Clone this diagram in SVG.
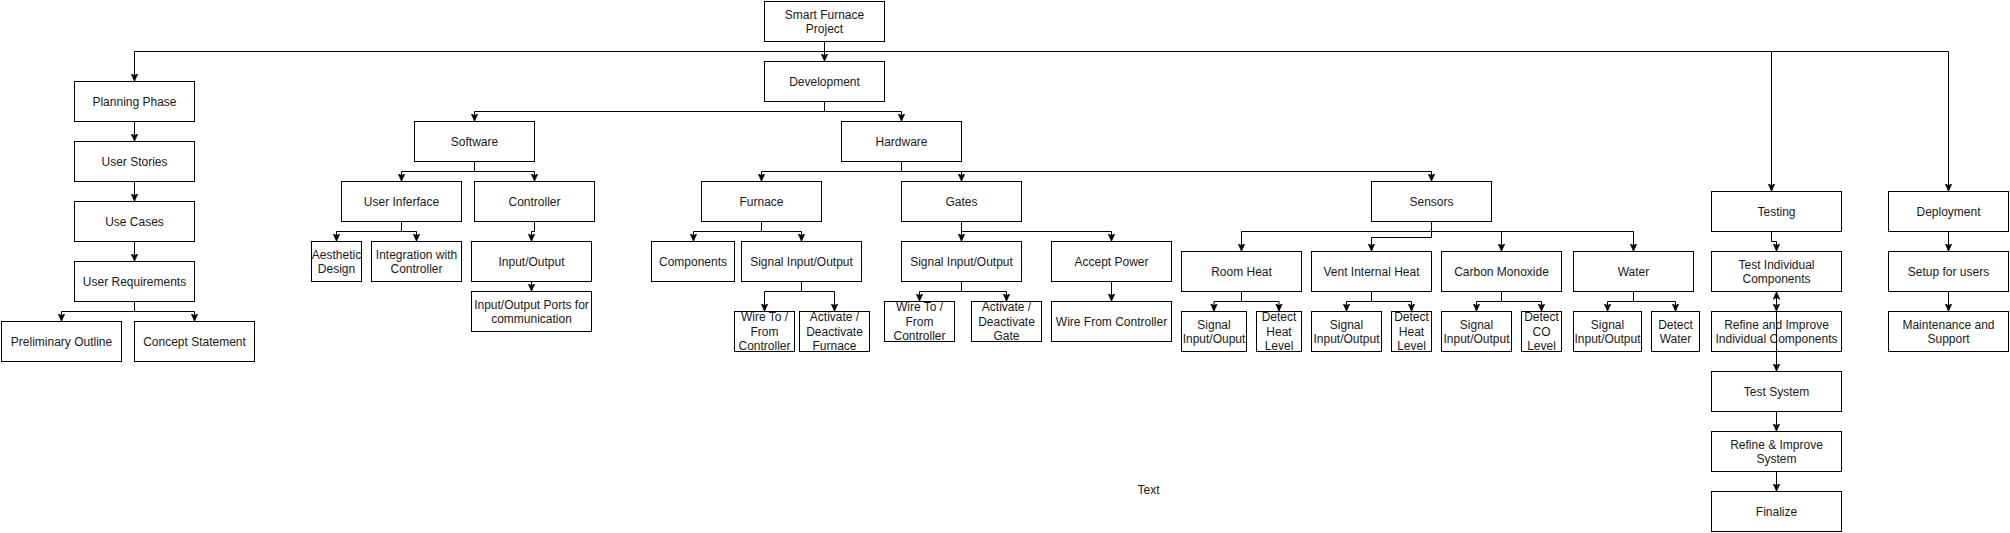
<svg xmlns="http://www.w3.org/2000/svg" width="2010" height="533" viewBox="0 0 2010 533">
<style>
.n rect{fill:#fff;stroke:#000;stroke-width:1}
.n rect.see{fill:none}
.n text,.lbl{font-family:"Liberation Sans",Arial,sans-serif;font-size:12px;fill:#1a1a1a;text-anchor:middle}
.e path{fill:none;stroke:#000;stroke-width:1;marker-end:url(#arr)}
</style>
<defs>
<marker id="arr" viewBox="0 0 8 8" refX="8" refY="4" markerWidth="8" markerHeight="8" markerUnits="userSpaceOnUse" orient="auto">
<path d="M0,0.5 L8,4 L0,7.5 L2,4 Z" fill="#000" stroke="#000" stroke-width="0.5"/>
</marker>
</defs>
<rect width="2010" height="533" fill="#fff"/>
<g id="connectors" class="e">
<path d="M824.5,41.5 V61.5"/>
<path d="M824.5,41.5 V51.5 H134.5 V81.5"/>
<path d="M824.5,41.5 V51.5 H1771.5 V191.5"/>
<path d="M824.5,41.5 V51.5 H1948.5 V191.5"/>
<path d="M134.5,121.5 V141.5"/>
<path d="M134.5,181.5 V201.5"/>
<path d="M134.5,241.5 V261.5"/>
<path d="M134.5,301.5 V311.5 H61.5 V321.5"/>
<path d="M134.5,301.5 V311.5 H194.5 V321.5"/>
<path d="M824.5,101.5 V111.5 H474.5 V121.5"/>
<path d="M824.5,101.5 V111.5 H901.5 V121.5"/>
<path d="M474.5,161.5 V171.5 H401.5 V181.5"/>
<path d="M474.5,161.5 V171.5 H534.5 V181.5"/>
<path d="M401.5,221.5 V231.5 H336.5 V241.5"/>
<path d="M401.5,221.5 V231.5 H416.5 V241.5"/>
<path d="M534.5,221.5 V231.5 H531.5 V241.5"/>
<path d="M531.5,281.5 V291.5"/>
<path d="M901.5,161.5 V171.5 H761.5 V181.5"/>
<path d="M901.5,161.5 V171.5 H961.5 V181.5"/>
<path d="M901.5,161.5 V171.5 H1431.5 V181.5"/>
<path d="M761.5,221.5 V231.5 H693.5 V241.5"/>
<path d="M761.5,221.5 V231.5 H801.5 V241.5"/>
<path d="M801.5,281.5 V291.5 H764.5 V311.5"/>
<path d="M801.5,281.5 V291.5 H834.5 V311.5"/>
<path d="M961.5,221.5 V241.5"/>
<path d="M961.5,221.5 V231.5 H1111.5 V241.5"/>
<path d="M961.5,281.5 V291.5 H919.5 V301.5"/>
<path d="M961.5,281.5 V291.5 H1006.5 V301.5"/>
<path d="M1111.5,281.5 V301.5"/>
<path d="M1431.5,221.5 V231.5 H1241.5 V251.5"/>
<path d="M1431.5,221.5 V237.5 H1371.5 V251.5"/>
<path d="M1431.5,221.5 V231.5 H1501.5 V251.5"/>
<path d="M1431.5,221.5 V231.5 H1633.5 V251.5"/>
<path d="M1241.5,291.5 V301.5 H1214 V311.5"/>
<path d="M1241.5,291.5 V301.5 H1279 V311.5"/>
<path d="M1371.5,291.5 V301.5 H1346.5 V311.5"/>
<path d="M1371.5,291.5 V301.5 H1411.5 V311.5"/>
<path d="M1501.5,291.5 V301.5 H1476.5 V311.5"/>
<path d="M1501.5,291.5 V301.5 H1541.5 V311.5"/>
<path d="M1633.5,291.5 V301.5 H1607.5 V311.5"/>
<path d="M1633.5,291.5 V301.5 H1675.5 V311.5"/>
<path d="M1771.5,231.5 V241.5 H1776.5 V251.5"/>
<path d="M1776.5,291.5 V311.5"/>
<path d="M1776.5,311.5 V291.5"/>
<path d="M1776.5,291.5 V371.5"/>
<path d="M1776.5,411.5 V431.5"/>
<path d="M1776.5,471.5 V491.5"/>
<path d="M1948.5,231.5 V251.5"/>
<path d="M1948.5,291.5 V311.5"/>
</g>
<g id="smart" class="n"><rect x="764.5" y="1.5" width="120" height="40"/><text x="824.5" y="18.5">Smart Furnace</text><text x="824.5" y="32.5">Project</text></g>
<g id="development" class="n"><rect x="764.5" y="61.5" width="120" height="40"/><text x="824.5" y="85.5">Development</text></g>
<g id="planning" class="n"><rect x="74.5" y="81.5" width="120" height="40"/><text x="134.5" y="105.5">Planning Phase</text></g>
<g id="stories" class="n"><rect x="74.5" y="141.5" width="120" height="40"/><text x="134.5" y="165.5">User Stories</text></g>
<g id="usecases" class="n"><rect x="74.5" y="201.5" width="120" height="40"/><text x="134.5" y="225.5">Use Cases</text></g>
<g id="userreq" class="n"><rect x="74.5" y="261.5" width="120" height="40"/><text x="134.5" y="285.5">User Requirements</text></g>
<g id="prelim" class="n"><rect x="1.5" y="321.5" width="120" height="40"/><text x="61.5" y="345.5">Preliminary Outline</text></g>
<g id="concept" class="n"><rect x="134.5" y="321.5" width="120" height="40"/><text x="194.5" y="345.5">Concept Statement</text></g>
<g id="software" class="n"><rect x="414.5" y="121.5" width="120" height="40"/><text x="474.5" y="145.5">Software</text></g>
<g id="hardware" class="n"><rect x="841.5" y="121.5" width="120" height="40"/><text x="901.5" y="145.5">Hardware</text></g>
<g id="ui" class="n"><rect x="341.5" y="181.5" width="120" height="40"/><text x="401.5" y="205.5">User Inferface</text></g>
<g id="controller" class="n"><rect x="474.5" y="181.5" width="120" height="40"/><text x="534.5" y="205.5">Controller</text></g>
<g id="aesthetic" class="n"><rect x="311.5" y="241.5" width="50" height="40"/><text x="336.5" y="258.5">Aesthetic</text><text x="336.5" y="272.5">Design</text></g>
<g id="integration" class="n"><rect x="371.5" y="241.5" width="90" height="40"/><text x="416.5" y="258.5">Integration with</text><text x="416.5" y="272.5">Controller</text></g>
<g id="io" class="n"><rect x="471.5" y="241.5" width="120" height="40"/><text x="531.5" y="265.5">Input/Output</text></g>
<g id="ioports" class="n"><rect x="471.5" y="291.5" width="120" height="40"/><text x="531.5" y="308.5">Input/Output Ports for</text><text x="531.5" y="322.5">communication</text></g>
<g id="furnace" class="n"><rect x="701.5" y="181.5" width="120" height="40"/><text x="761.5" y="205.5">Furnace</text></g>
<g id="components" class="n"><rect x="651.5" y="241.5" width="83" height="40"/><text x="693" y="265.5">Components</text></g>
<g id="furnacesig" class="n"><rect x="741.5" y="241.5" width="120" height="40"/><text x="801.5" y="265.5">Signal Input/Output</text></g>
<g id="furnacewire" class="n"><rect x="734.5" y="311.5" width="60" height="40"/><text x="764.5" y="321.1">Wire To /</text><text x="764.5" y="335.5">From</text><text x="764.5" y="349.9">Controller</text></g>
<g id="furnaceact" class="n"><rect x="799.5" y="311.5" width="70" height="40"/><text x="834.5" y="321.1">Activate /</text><text x="834.5" y="335.5">Deactivate</text><text x="834.5" y="349.9">Furnace</text></g>
<g id="gates" class="n"><rect x="901.5" y="181.5" width="120" height="40"/><text x="961.5" y="205.5">Gates</text></g>
<g id="gatesig" class="n"><rect x="901.5" y="241.5" width="120" height="40"/><text x="961.5" y="265.5">Signal Input/Output</text></g>
<g id="power" class="n"><rect x="1051.5" y="241.5" width="120" height="40"/><text x="1111.5" y="265.5">Accept Power</text></g>
<g id="gatewire" class="n"><rect x="884.5" y="301.5" width="70" height="40"/><text x="919.5" y="311.1">Wire To /</text><text x="919.5" y="325.5">From</text><text x="919.5" y="339.9">Controller</text></g>
<g id="gateact" class="n"><rect x="971.5" y="301.5" width="70" height="40"/><text x="1006.5" y="311.1">Activate /</text><text x="1006.5" y="325.5">Deactivate</text><text x="1006.5" y="339.9">Gate</text></g>
<g id="powerwire" class="n"><rect x="1051.5" y="301.5" width="120" height="40"/><text x="1111.5" y="325.5">Wire From Controller</text></g>
<g id="sensors" class="n"><rect x="1371.5" y="181.5" width="120" height="40"/><text x="1431.5" y="205.5">Sensors</text></g>
<g id="roomheat" class="n"><rect x="1181.5" y="251.5" width="120" height="40"/><text x="1241.5" y="275.5">Room Heat</text></g>
<g id="vent" class="n"><rect x="1311.5" y="251.5" width="120" height="40"/><text x="1371.5" y="275.5">Vent Internal Heat</text></g>
<g id="co" class="n"><rect x="1441.5" y="251.5" width="120" height="40"/><text x="1501.5" y="275.5">Carbon Monoxide</text></g>
<g id="water" class="n"><rect x="1573.5" y="251.5" width="120" height="40"/><text x="1633.5" y="275.5">Water</text></g>
<g id="roomsig" class="n"><rect x="1181.5" y="311.5" width="65" height="40"/><text x="1214" y="328.5">Signal</text><text x="1214" y="342.5">Input/Ouput</text></g>
<g id="roomdet" class="n"><rect x="1256.5" y="311.5" width="45" height="40"/><text x="1279" y="321.1">Detect</text><text x="1279" y="335.5">Heat</text><text x="1279" y="349.9">Level</text></g>
<g id="ventsig" class="n"><rect x="1311.5" y="311.5" width="70" height="40"/><text x="1346.5" y="328.5">Signal</text><text x="1346.5" y="342.5">Input/Output</text></g>
<g id="ventdet" class="n"><rect x="1391.5" y="311.5" width="40" height="40"/><text x="1411.5" y="321.1">Detect</text><text x="1411.5" y="335.5">Heat</text><text x="1411.5" y="349.9">Level</text></g>
<g id="cosig" class="n"><rect x="1441.5" y="311.5" width="70" height="40"/><text x="1476.5" y="328.5">Signal</text><text x="1476.5" y="342.5">Input/Output</text></g>
<g id="codet" class="n"><rect x="1521.5" y="311.5" width="40" height="40"/><text x="1541.5" y="321.1">Detect</text><text x="1541.5" y="335.5">CO</text><text x="1541.5" y="349.9">Level</text></g>
<g id="watersig" class="n"><rect x="1573.5" y="311.5" width="68" height="40"/><text x="1607.5" y="328.5">Signal</text><text x="1607.5" y="342.5">Input/Output</text></g>
<g id="waterdet" class="n"><rect x="1651.5" y="311.5" width="48" height="40"/><text x="1675.5" y="328.5">Detect</text><text x="1675.5" y="342.5">Water</text></g>
<g id="testing" class="n"><rect x="1711.5" y="191.5" width="130" height="40"/><text x="1776.5" y="215.5">Testing</text></g>
<g id="testind" class="n"><rect x="1711.5" y="251.5" width="130" height="40"/><text x="1776.5" y="268.5">Test Individual</text><text x="1776.5" y="282.5">Components</text></g>
<g id="refineind" class="n"><rect class="see" x="1711.5" y="311.5" width="130" height="40"/><text x="1776.5" y="328.5">Refine and Improve</text><text x="1776.5" y="342.5">Individual Components</text></g>
<g id="testsys" class="n"><rect x="1711.5" y="371.5" width="130" height="40"/><text x="1776.5" y="395.5">Test System</text></g>
<g id="refinesys" class="n"><rect x="1711.5" y="431.5" width="130" height="40"/><text x="1776.5" y="448.5">Refine &amp; Improve</text><text x="1776.5" y="462.5">System</text></g>
<g id="finalize" class="n"><rect x="1711.5" y="491.5" width="130" height="40"/><text x="1776.5" y="515.5">Finalize</text></g>
<g id="deployment" class="n"><rect x="1888.5" y="191.5" width="120" height="40"/><text x="1948.5" y="215.5">Deployment</text></g>
<g id="setup" class="n"><rect x="1888.5" y="251.5" width="120" height="40"/><text x="1948.5" y="275.5">Setup for users</text></g>
<g id="maintenance" class="n"><rect x="1888.5" y="311.5" width="120" height="40"/><text x="1948.5" y="328.5">Maintenance and</text><text x="1948.5" y="342.5">Support</text></g>
<text id="textlabel" class="lbl" x="1148.5" y="494">Text</text>
</svg>
